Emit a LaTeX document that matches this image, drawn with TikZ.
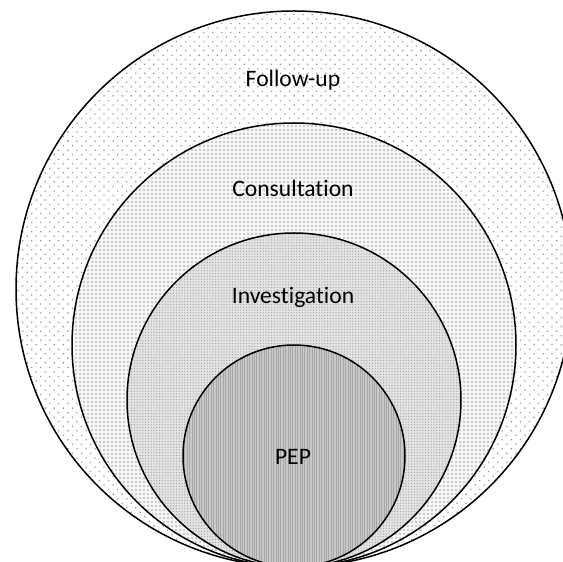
\documentclass[tikz,border=0pt]{standalone}
\usepackage{fontspec}
\setmainfont[Ligatures=NoCommon]{Carlito}
\usetikzlibrary{patterns.meta, positioning}

\begin{document}
\begin{tikzpicture}[x=0.5pt, y=0.5pt,
    font=\fontsize{11.8}{14}\selectfont,
    ring/.style={draw, circle, inner sep=0pt, line width=0.75pt},
    lbl/.style={inner sep=0pt, anchor=center}]
    \clip (0,0) rectangle (563,562);
    \node[ring, minimum size=278pt, preaction={fill=white},
          pattern={Dots[distance=3.2pt, angle=45, radius=0.45pt]}, pattern color=gray!80] (fu) at (294,273) {};
    \node[ring, minimum size=222pt, preaction={fill=gray!7},
          pattern={Dots[distance=2pt, radius=0.4pt]}, pattern color=gray!75] (con) at (294,217) {};
    \node[ring, minimum size=167pt, preaction={fill=gray!22},
          pattern={Dots[distance=1.4pt, radius=0.35pt]}, pattern color=gray!70] (inv) at (294,162) {};
    \node[ring, minimum size=111pt, preaction={fill=gray!42},
          pattern={Lines[distance=1.2pt, angle=90, line width=0.4pt]}, pattern color=gray!70] (pep) at (294,106) {};
    \node[lbl] (fu-t) at (293,482) {Follow-up};
    \node[lbl] (con-t) at (293,374) {Consultation};
    \node[lbl] (inv-t) at (293,265) {Investigation};
    \node[lbl] (pep-t) at (293,105) {PEP};
\end{tikzpicture}
\end{document}
